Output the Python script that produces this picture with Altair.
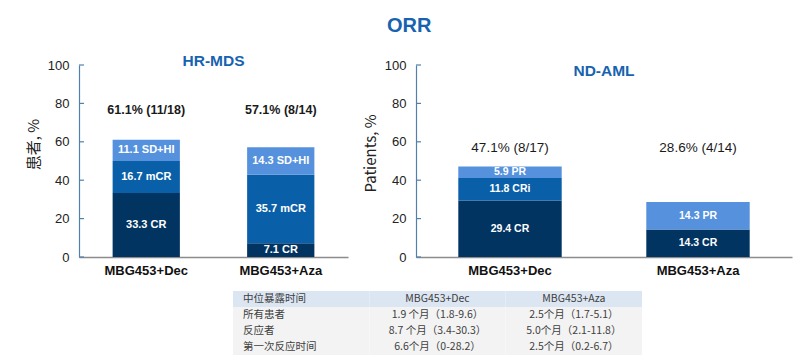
import altair as alt
import pandas as pd

FONT = "Liberation Sans, Arial, Noto Sans CJK SC"
CJK = "Noto Sans CJK SC, Liberation Sans"

categories = ["MBG453+Dec", "MBG453+Aza"]

# HR-MDS panel
mds_cat = ["MBG453+Dec", "MBG453+Dec", "MBG453+Dec", "MBG453+Aza", "MBG453+Aza", "MBG453+Aza"]
mds_tier = [0, 1, 2, 0, 1, 2]
mds_val = [33.3, 16.7, 11.1, 7.1, 35.7, 14.3]
mds_lab = ["33.3 CR", "16.7 mCR", "11.1 SD+HI", "7.1  CR", "35.7 mCR", "14.3  SD+HI"]
mds_totals = ["61.1% (11/18)", "57.1% (8/14)"]

# ND-AML panel
aml_cat = ["MBG453+Dec", "MBG453+Dec", "MBG453+Dec", "MBG453+Aza", "MBG453+Aza"]
aml_tier = [0, 1, 2, 0, 2]
aml_val = [29.4, 11.8, 5.9, 14.3, 14.3]
aml_lab = ["29.4 CR", "11.8 CRi", "5.9 PR", "14.3 CR", "14.3 PR"]
aml_totals = ["47.1% (8/17)", "28.6% (4/14)"]

tick_values = [0, 20, 40, 60, 80, 100]

table_header = ["中位暴露时间", "MBG453+Dec", "MBG453+Aza"]
table_rows = [
    ["所有患者", "1.9 个月（1.8-9.6）", "2.5个月（1.7-5.1）"],
    ["反应者", "8.7 个月（3.4-30.3）", "5.0个月（2.1-11.8）"],
    ["第一次反应时间", "6.6个月（0-28.2）", "2.5个月（0.2-6.7）"],
]

tier_colors = ["#023462", "#0a5fa9", "#5591dc"]
axis_color = "#5180ad"
title_blue = "#1763b0"


def panel(cat, tier, val, lab, totals, title, ytitle, width, label_y, pad_in,
          tot_bold, tot_size, seg_size, title_off, title_y):
    df = pd.DataFrame({"cat": cat, "tier": tier, "val": val, "lab": lab})
    tdf = pd.DataFrame({"cat": categories, "total": totals})
    kdf = pd.DataFrame({"v": tick_values})
    xs = alt.Scale(domain=categories, paddingInner=pad_in, paddingOuter=pad_in / 2)
    ys = alt.Scale(domain=[0, 100], nice=False)
    xaxis = alt.Axis(title=None, labelAngle=0, labelFont=FONT, labelFontSize=13,
                     labelFontWeight="bold", labelColor="#111", ticks=False,
                     domainColor="#8c8c8c", domainWidth=1.5, labelPadding=7)
    yaxis = alt.Axis(values=tick_values, tickCount=6, ticks=False, grid=False,
                     domainColor=axis_color, domainWidth=1.2, labelFont=FONT,
                     labelFontSize=13, labelColor="#222", labelPadding=10,
                     labelOverlap=False, labelFlush=False, titleFont=CJK, titleFontSize=15,
                     titleFontWeight="normal", titleColor="#222", titlePadding=6,
                     titleY=title_y)
    base = alt.Chart(df).transform_stack(
        stack="val", groupby=["cat"], sort=[alt.SortField("tier")], as_=["y0", "y1"]
    ).transform_calculate(mid="(datum.y0 + datum.y1) / 2")
    bars = base.mark_bar().encode(
        x=alt.X("cat:N", sort=categories, scale=xs, axis=xaxis),
        y=alt.Y("y0:Q", scale=ys, axis=yaxis, title=ytitle),
        y2="y1:Q",
        color=alt.Color("tier:N", scale=alt.Scale(domain=[0, 1, 2], range=tier_colors), legend=None),
    )
    seg = base.mark_text(color="white", fontWeight="bold", fontSize=seg_size, font=FONT,
                         baseline="middle").encode(
        x=alt.X("cat:N", sort=categories, scale=xs, axis=xaxis),
        y=alt.Y("mid:Q", scale=ys, axis=yaxis, title=ytitle),
        text="lab:N",
    )
    tot = alt.Chart(tdf).mark_text(fontWeight="bold" if tot_bold else "normal",
                                   fontSize=tot_size, font=FONT, color="#1a1a1a",
                                   baseline="middle").encode(
        x=alt.X("cat:N", sort=categories, scale=xs, axis=xaxis),
        y=alt.datum(label_y),
        text="total:N",
    )
    ticks = alt.Chart(kdf).mark_rule(color=axis_color, strokeWidth=1.2).encode(
        y=alt.Y("v:Q", scale=ys, axis=yaxis, title=ytitle),
        x=alt.value(0), x2=alt.value(5),
    )
    return alt.layer(bars, seg, tot, ticks).properties(
        width=width, height=192,
        title=alt.TitleParams(title, font=FONT, fontSize=15.5, fontWeight="bold",
                              color=title_blue, anchor="middle", offset=title_off,
                              baseline="top"),
    )


left = panel(mds_cat, mds_tier, mds_val, mds_lab, mds_totals, "HR-MDS", "患者, %",
             269, 76.5, 0.5, True, 12.5, 11, -10, 79)
right = panel(aml_cat, aml_tier, aml_val, aml_lab, aml_totals, "ND-AML", "Patients, %",
              376, 57, 0.45, False, 13.5, 10.5, -20, 88)

top = alt.hconcat(left, right, spacing=15)

# table
recs = []
for r_i, row in enumerate([table_header] + table_rows):
    for c_i, cell in enumerate(row):
        recs.append({"row": r_i, "col": c_i, "text": cell})
tab = pd.DataFrame(recs)
txs = alt.Scale(domain=[0, 1, 2], paddingInner=0, paddingOuter=0)
tys = alt.Scale(domain=[0, 1, 2, 3], paddingInner=0, paddingOuter=0)
tbase = alt.Chart(tab)
bg = tbase.mark_rect().encode(
    x=alt.X("col:O", scale=txs, axis=None),
    y=alt.Y("row:O", scale=tys, axis=None),
    color=alt.condition("datum.row == 0", alt.value("#dce6f2"), alt.value("#f3f3f3")),
)
t0 = tbase.transform_filter("datum.col == 0").mark_text(
    align="left", dx=10, font=CJK, fontSize=10.5, color="#404040").encode(
    x=alt.X("col:O", scale=txs, axis=None, bandPosition=0),
    y=alt.Y("row:O", scale=tys, axis=None),
    text="text:N",
)
t1 = tbase.transform_filter("datum.col > 0").mark_text(
    align="center", font=CJK, fontSize=10.5, color="#404040").encode(
    x=alt.X("col:O", scale=txs, axis=None),
    y=alt.Y("row:O", scale=tys, axis=None),
    text="text:N",
)
table = alt.layer(bg, t0, t1).properties(width=409, height=64)
spacer = alt.Chart(pd.DataFrame({"a": [0]})).mark_point(opacity=0).encode(
    x=alt.value(0), y=alt.value(0)).properties(width=154, height=1)
bottom = alt.hconcat(spacer, table, spacing=0)

chart = alt.vconcat(top, bottom, spacing=11).properties(
    title=alt.TitleParams("ORR", font=FONT, fontSize=20, fontWeight="bold",
                          color=title_blue, anchor="middle", offset=18),
    padding={"left": 18, "top": 7, "right": 5, "bottom": 5},
    background="white",
).configure_view(stroke=None)

chart.save("out.html", embed_options={"renderer": "svg", "actions": False})
